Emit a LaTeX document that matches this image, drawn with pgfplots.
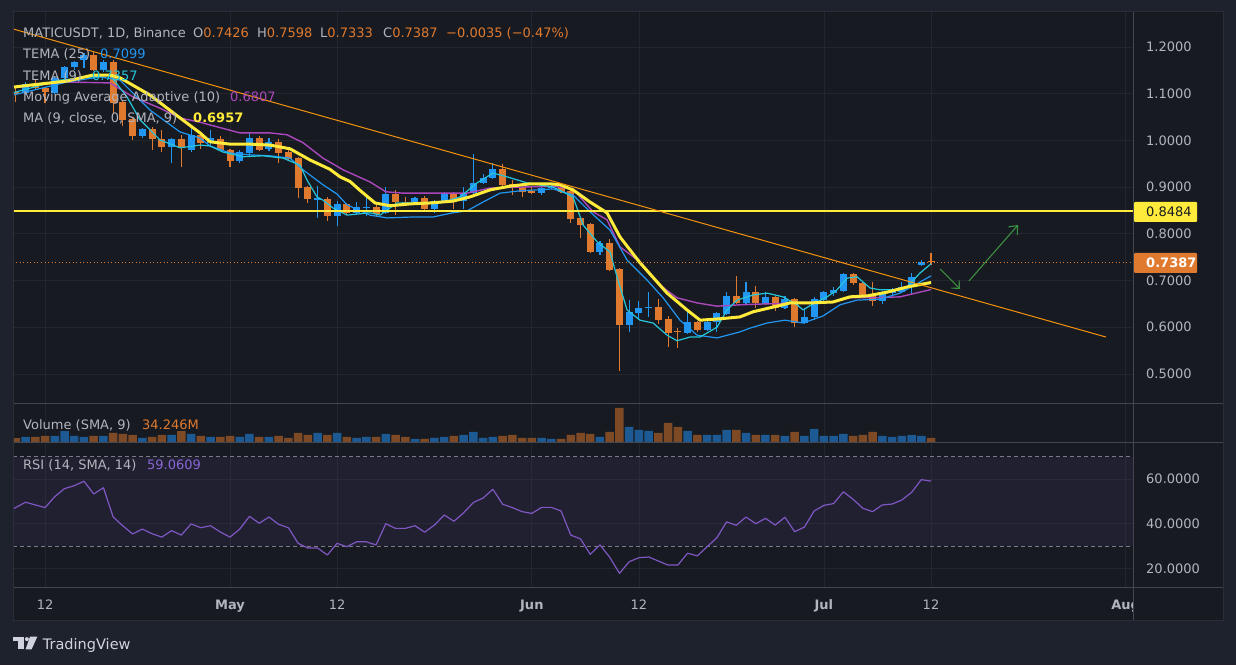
\documentclass[border=0pt]{standalone}
\usepackage{fontspec}
\setmainfont{DejaVu Sans}
\usepackage{pgfplots}
\pgfplotsset{compat=1.18}
\usepackage{pgfplotstable}
\usetikzlibrary{arrows.meta}

\definecolor{outerbg}{HTML}{1E222D}
\definecolor{chartbg}{HTML}{171A21}
\definecolor{gridc}{HTML}{22262F}
\definecolor{sepc}{HTML}{434651}
\definecolor{bordc}{HTML}{2A2E39}
\definecolor{txt}{HTML}{B2B5BE}
\definecolor{cblue}{HTML}{2196F3}
\definecolor{corange}{HTML}{E07A2E}
\definecolor{vblue}{HTML}{1D5A94}
\definecolor{vorange}{HTML}{7D4A25}
\definecolor{tema25}{HTML}{2196F3}
\definecolor{tema9}{HTML}{26C6DA}
\definecolor{maa}{HTML}{AB47BC}
\definecolor{ma9}{HTML}{FFEB3B}
\definecolor{trend}{HTML}{F5930E}
\definecolor{rsil}{HTML}{7E57C2}
\definecolor{rsitxt}{HTML}{8A66D6}
\definecolor{dashc}{HTML}{787B86}
\definecolor{arrowg}{HTML}{3C8F40}
\definecolor{logoc}{HTML}{D1D4DC}

% bullish candles: day open high low close
\pgfplotstableread{
d o h l c
-2 1.102 1.125 1.098 1.121
1 1.102 1.138 1.100 1.134
2 1.134 1.160 1.130 1.157
3 1.157 1.170 1.150 1.168
4 1.172 1.187 1.155 1.183
6 1.151 1.172 1.146 1.168
10 1.009 1.026 1.005 1.024
13 0.986 1.005 0.952 1.003
15 0.980 1.031 0.975 1.012
17 0.995 1.022 0.990 1.005
20 0.956 0.979 0.952 0.975
21 0.973 1.018 0.965 1.005
23 0.982 1.005 0.978 0.997
28 0.873 0.902 0.834 0.876
30 0.838 0.870 0.817 0.864
32 0.845 0.868 0.843 0.857
33 0.856 0.879 0.838 0.858
35 0.845 0.900 0.842 0.885
38 0.868 0.879 0.864 0.877
40 0.853 0.873 0.845 0.870
41 0.868 0.890 0.866 0.887
43 0.870 0.900 0.853 0.887
44 0.887 0.971 0.885 0.909
45 0.909 0.927 0.907 0.920
46 0.920 0.952 0.917 0.939
51 0.887 0.905 0.883 0.898
52 0.899 0.905 0.896 0.901
57 0.761 0.784 0.755 0.780
60 0.605 0.658 0.590 0.633
61 0.630 0.656 0.620 0.641
62 0.642 0.675 0.622 0.644
66 0.588 0.633 0.585 0.611
68 0.594 0.618 0.592 0.611
69 0.611 0.632 0.590 0.630
70 0.628 0.675 0.626 0.667
72 0.652 0.697 0.648 0.675
74 0.650 0.675 0.648 0.665
76 0.641 0.667 0.639 0.660
78 0.609 0.641 0.607 0.622
79 0.622 0.665 0.616 0.660
80 0.658 0.678 0.652 0.675
81 0.673 0.686 0.667 0.680
82 0.678 0.716 0.676 0.714
86 0.656 0.677 0.650 0.675
87 0.673 0.684 0.669 0.680
88 0.675 0.697 0.674 0.686
89 0.686 0.716 0.671 0.708
90 0.733 0.744 0.732 0.740
}\bull

% bearish candles: day open high low close
\pgfplotstableread{
d o h l c
-3 1.104 1.112 1.082 1.100
-1 1.121 1.129 1.108 1.112
0 1.112 1.114 1.080 1.104
5 1.183 1.190 1.148 1.151
7 1.168 1.172 1.057 1.080
8 1.082 1.086 1.031 1.044
9 1.046 1.050 1.001 1.009
11 1.024 1.029 0.980 1.003
12 1.003 1.022 0.975 0.986
14 1.003 1.012 0.943 0.986
16 1.012 1.016 0.982 0.995
18 1.003 1.010 0.977 0.980
19 0.980 0.982 0.943 0.956
22 1.005 1.009 0.978 0.980
24 0.997 1.003 0.952 0.973
25 0.975 0.981 0.955 0.960
26 0.962 0.965 0.877 0.898
27 0.900 0.903 0.866 0.875
29 0.875 0.879 0.827 0.838
31 0.864 0.866 0.840 0.845
34 0.857 0.862 0.835 0.842
36 0.885 0.894 0.840 0.868
37 0.869 0.878 0.862 0.867
39 0.877 0.880 0.850 0.853
42 0.887 0.890 0.853 0.870
47 0.939 0.950 0.902 0.905
48 0.907 0.915 0.883 0.900
49 0.900 0.903 0.879 0.890
50 0.892 0.900 0.885 0.887
53 0.900 0.903 0.888 0.890
54 0.892 0.894 0.823 0.832
55 0.834 0.836 0.791 0.819
56 0.821 0.823 0.758 0.761
58 0.780 0.789 0.720 0.723
59 0.725 0.727 0.506 0.605
63 0.643 0.660 0.607 0.615
64 0.618 0.624 0.558 0.588
65 0.591 0.598 0.556 0.589
67 0.611 0.614 0.590 0.594
71 0.667 0.710 0.650 0.652
73 0.675 0.688 0.641 0.652
75 0.665 0.667 0.635 0.641
77 0.660 0.662 0.600 0.609
83 0.714 0.717 0.690 0.695
84 0.695 0.697 0.663 0.667
85 0.669 0.697 0.645 0.656
91 0.7426 0.7598 0.7333 0.7387
}\bear

% volume (millions)
\pgfplotstableread{
d v
-2 42
1 50
2 88
3 50
4 42
6 50
10 34
13 58
15 66
17 42
20 42
21 66
23 42
28 74
30 74
32 34
33 42
35 66
38 26
40 34
41 42
43 58
44 82
45 34
46 42
51 34
52 26
57 42
60 122
61 98
62 90
66 90
68 58
69 58
70 98
72 74
74 58
76 50
78 50
79 106
80 50
81 50
82 66
86 50
87 42
88 50
89 58
90 50
}\volb

\pgfplotstableread{
d v
-3 32
-1 42
0 50
5 50
7 74
8 66
9 58
11 42
12 58
14 88
16 50
18 42
19 50
22 42
24 50
25 34
26 74
27 58
29 58
31 42
34 42
36 58
37 42
39 26
42 50
47 50
48 58
49 34
50 34
53 26
54 58
55 74
56 66
58 82
59 274
63 74
64 154
65 122
67 58
71 98
73 58
75 58
77 82
83 50
84 58
85 82
91 34
}\volo

% RSI (14)
\pgfplotstableread{
d r
-3.29 46.6
-2 49.6
0 47.2
1 52.1
2 55.7
3 57.0
4 59.0
5 53.3
6 56.1
7 43.0
8 39.0
9 35.4
10 37.6
11 35.5
12 34.0
13 36.9
14 34.9
15 39.9
16 38.2
17 39.1
18 36.3
19 34.0
20 37.6
21 43.3
22 40.2
23 43.0
24 39.7
25 38.2
26 31.2
27 29.1
28 29.1
29 26.0
30 31.2
31 29.7
32 31.9
33 31.9
34 30.5
35 40.0
36 37.9
37 37.9
38 39.1
39 36.2
40 39.4
41 43.9
42 41.1
43 44.9
44 49.5
45 51.5
46 55.4
47 48.7
48 47.2
49 45.4
50 44.6
51 47.3
52 47.3
53 45.7
54 34.9
55 33.2
56 26.3
57 30.5
58 25.0
59 17.8
60 23.0
61 24.8
62 25.1
63 23.3
64 21.5
65 21.5
66 26.8
67 25.6
68 29.7
69 33.7
70 40.8
71 39.3
72 43.0
73 40.0
74 42.4
75 39.4
76 42.9
77 36.4
78 38.5
79 45.7
80 48.2
81 49.0
82 54.3
83 50.9
84 46.9
85 45.4
86 48.4
87 48.8
88 50.6
89 54.0
90 59.7
91 59.06
}\rsi

\pgfplotsset{
  tvaxis/.style={
    scale only axis, width=1120pt, anchor=south west,
    xmin=-3.29, xmax=111.75,
    axis line style={draw=none},
    major tick length=0pt,
    tick style={draw=none},
    xtick={0,19,30,50,61,80,91,111},
    grid=major,
    major grid style={draw=gridc, line width=0.8pt},
    tick label style={font=\fontsize{13pt}{15pt}\selectfont, text=txt},
    scaled y ticks=false,
  },
}

\begin{document}
\begin{tikzpicture}[font=\fontsize{13pt}{15pt}\selectfont]
\useasboundingbox (0pt,0pt) rectangle (1236pt,665pt);
\fill[outerbg] (0pt,0pt) rectangle (1236pt,665pt);
\fill[chartbg] (13pt,45pt) rectangle (1223pt,653pt);

% ---------------- price panel ----------------
\begin{axis}[tvaxis, at={(13pt,262pt)}, height=391pt,
  ymin=0.4377, ymax=1.2749,
  ytick={0.5,0.6,0.7,0.8,0.9,1.0,1.1,1.2},
  xticklabels={},
  yticklabel pos=right,
  yticklabel style={anchor=west, inner sep=0pt, xshift=13pt,
    /pgf/number format/.cd, fixed, fixed zerofill, precision=4, assume math mode=true},
]
% wicks
\addplot[draw=cblue, line width=1.1pt, quiver={u=0, v=\thisrow{h}-\thisrow{l}}] table[x=d, y=l] {\bull};
\addplot[draw=corange, line width=1.1pt, quiver={u=0, v=\thisrow{h}-\thisrow{l}}] table[x=d, y=l] {\bear};
% bodies
\addplot[draw=cblue, line width=7pt, quiver={u=0, v=\thisrow{c}-\thisrow{o}}] table[x=d, y=o] {\bull};
\addplot[draw=corange, line width=7pt, quiver={u=0, v=\thisrow{o}-\thisrow{c}}] table[x=d, y=c] {\bear};

% Moving Average Adaptive (10)
\addplot[maa, line width=1.4pt, line join=round] coordinates {
(-3.29,1.114) (2.26,1.125) (6.68,1.123) (9.04,1.093) (11.81,1.069) (13.87,1.048) (15.92,1.039) (16.95,1.033) (20.03,1.016) (23.11,1.016) (24.86,1.012) (26.50,0.995) (28.55,0.962) (30.61,0.937) (33.38,0.911) (35.0,0.890) (36.77,0.887) (40.26,0.887) (43.34,0.887) (45.71,0.898) (48.79,0.900) (52.18,0.902) (54.23,0.896) (56.29,0.847) (57.72,0.830) (59.06,0.772) (61.11,0.740) (63.17,0.690) (64.91,0.663) (66.97,0.652) (69.02,0.645) (71.38,0.648) (74.16,0.650) (77.55,0.652) (80.94,0.654) (82.68,0.663) (85.04,0.663) (87.82,0.665) (91.00,0.6807)};
% TEMA (25)
\addplot[tema25, line width=1.2pt, line join=round] coordinates {
(-3.29,1.097) (2.26,1.125) (5.65,1.136) (7.70,1.129) (10.78,1.065) (13.87,1.018) (15.92,1.005) (16.95,0.988) (19.00,0.973) (21.06,0.969) (23.11,0.967) (25.16,0.962) (26.50,0.937) (28.55,0.905) (30.0,0.885) (31.02,0.862) (33.38,0.840) (35.13,0.834) (37.80,0.836) (39.85,0.836) (41.91,0.845) (43.34,0.849) (44.99,0.868) (46.73,0.887) (48.79,0.892) (52.18,0.896) (54.23,0.883) (55.98,0.847) (58.03,0.808) (59.78,0.744) (61.83,0.701) (63.48,0.663) (65.22,0.615) (66.97,0.583) (69.02,0.577) (71.38,0.590) (72.41,0.598) (74.16,0.609) (76.00,0.615) (77.86,0.609) (79.91,0.624) (81.66,0.648) (83.40,0.658) (85.76,0.660) (87.82,0.673) (91.00,0.7099)};
% TEMA (9)
\addplot[tema9, line width=1.2pt, line join=round] coordinates {
(-3.29,1.102) (1.54,1.129) (6.68,1.140) (8.42,1.093) (9.76,1.044) (11.81,1.001) (13.87,0.984) (15.92,0.990) (16.95,0.988) (18.28,0.975) (20.34,0.965) (22.39,0.967) (24.45,0.962) (26.19,0.947) (26.91,0.915) (27.94,0.879) (28.55,0.872) (29.6,0.855) (31.02,0.840) (33.38,0.845) (34.41,0.840) (36.15,0.866) (38.21,0.866) (40.57,0.866) (42.63,0.879) (44.37,0.909) (46.01,0.930) (47.45,0.922) (49.51,0.909) (52.18,0.900) (54.23,0.879) (55.26,0.819) (56.70,0.783) (58.03,0.761) (58.75,0.708) (59.78,0.637) (61.11,0.615) (62.45,0.609) (63.89,0.583) (64.91,0.571) (66.25,0.579) (67.28,0.579) (69.02,0.600) (70.05,0.637) (71.08,0.658) (72.72,0.669) (74.16,0.673) (75.80,0.665) (77.24,0.648) (77.86,0.637) (78.88,0.650) (80.32,0.665) (81.35,0.680) (82.38,0.705) (83.40,0.708) (84.74,0.684) (85.76,0.680) (87.10,0.680) (88.54,0.686) (89.87,0.716) (91.00,0.7357)};
% MA (9)
\addplot[ma9, line width=3pt, line join=round] coordinates {
(-3.29,1.114) (-1.23,1.119) (2.26,1.127) (4.93,1.140) (6.68,1.140) (7.70,1.134) (10.78,1.097) (13.87,1.048) (15.92,1.016) (16.95,0.997) (19.00,0.992) (21.06,0.992) (23.11,0.990) (25.16,0.982) (27.22,0.958) (28.25,0.948) (29.27,0.938) (30.30,0.922) (31.33,0.912) (32.35,0.893) (33.90,0.866) (35.44,0.860) (37.49,0.864) (39.54,0.866) (41.91,0.870) (43.65,0.879) (45.71,0.894) (47.76,0.902) (49.81,0.907) (51.87,0.907) (52.90,0.905) (54.23,0.894) (55.98,0.868) (57.72,0.845) (59.06,0.793) (61.11,0.738) (63.89,0.673) (65.94,0.637) (67.28,0.615) (69.33,0.618) (71.38,0.622) (72.72,0.633) (74.77,0.643) (76.52,0.652) (78.57,0.652) (80.94,0.654) (82.68,0.665) (84.43,0.667) (86.48,0.675) (88.54,0.686) (91.00,0.6957)};

% horizontal level, trend line, last price line
\addplot[ma9, line width=2pt] coordinates {(-3.29,0.8484) (111.75,0.8484)};
\addplot[trend, line width=1pt] coordinates {(-3.29,1.2386) (108.96,0.579)};
\addplot[corange, line width=0.8pt, dash pattern=on 1pt off 2.5pt] coordinates {(-3.29,0.7387) (111.75,0.7387)};
% green arrows
\addplot[arrowg, line width=1.1pt, -{Straight Barb[length=6pt,width=11pt]}] coordinates {(91.93,0.7246) (93.98,0.6818)};
\addplot[arrowg, line width=1.1pt, -{Straight Barb[length=7pt,width=12pt]}] coordinates {(94.90,0.6990) (99.94,0.8189)};
\end{axis}

% ---------------- volume panel ----------------
\begin{axis}[tvaxis, at={(13pt,223pt)}, height=39pt,
  ymin=0, ymax=312, ytick=\empty, xticklabels={}]
\addplot[ybar, bar width=8.5pt, bar shift=0pt, fill=vblue, draw=none] table[x=d, y=v] {\volb};
\addplot[ybar, bar width=8.5pt, bar shift=0pt, fill=vorange, draw=none] table[x=d, y=v] {\volo};
\end{axis}

% ---------------- RSI panel ----------------
\begin{axis}[tvaxis, at={(13pt,78pt)}, height=145pt,
  ymin=11.68, ymax=76.55,
  ytick={20,40,60},
  yticklabel pos=right,
  yticklabel style={anchor=west, inner sep=0pt, xshift=13pt,
    /pgf/number format/.cd, fixed, fixed zerofill, precision=4, assume math mode=true},
  xticklabels={12,\textbf{May},12,\textbf{Jun},12,\textbf{Jul},12,\textbf{Aug}},
  xticklabel style={anchor=base, inner sep=0pt, yshift=-22pt},
]
\addplot[fill=rsil, fill opacity=0.1, draw=none] coordinates {(-3.29,30) (111.75,30) (111.75,70) (-3.29,70)} -- cycle;
\addplot[dashc, line width=0.8pt, dash pattern=on 4pt off 3pt] coordinates {(-3.29,70) (111.75,70)};
\addplot[dashc, line width=0.8pt, dash pattern=on 4pt off 3pt] coordinates {(-3.29,30) (111.75,30)};
\addplot[rsil, line width=1.2pt, line join=round] table[x=d, y=r] {\rsi};
\end{axis}

% cover date label overflow under the price scale
\fill[chartbg] (1134pt,46pt) rectangle (1222pt,77pt);

% separators and border
\draw[sepc, line width=1pt] (13pt,262pt) -- (1223pt,262pt);
\draw[sepc, line width=1pt] (13pt,223pt) -- (1223pt,223pt);
\draw[sepc, line width=1pt] (13pt,78pt) -- (1223pt,78pt);
\draw[sepc, line width=1pt] (1133pt,45pt) -- (1133pt,653pt);
\draw[bordc, line width=1pt] (13pt,45pt) rectangle (1223pt,653pt);

% price scale labels
\fill[ma9, rounded corners=1pt] (1134pt,443pt) rectangle (1197pt,463pt);
\node[anchor=west, inner sep=0pt, text=chartbg] at (1146pt,453pt) {0.8484};
\fill[corange, rounded corners=1pt] (1134pt,392pt) rectangle (1197pt,412pt);
\node[anchor=west, inner sep=0pt, text=white] at (1146pt,402pt) {\bfseries 0.7387};

% legends
\begin{scope}[every node/.style={anchor=base west, inner sep=0pt}]
\node[text=txt] at (23pt,627.3pt) {MATICUSDT, 1D, Binance};
\node at (193pt,627.3pt) {\textcolor{txt}{O}\textcolor{corange}{0.7426}};
\node at (257pt,627.3pt) {\textcolor{txt}{H}\textcolor{corange}{0.7598}};
\node at (320pt,627.3pt) {\textcolor{txt}{L}\textcolor{corange}{0.7333}};
\node at (383pt,627.3pt) {\textcolor{txt}{C}\textcolor{corange}{0.7387}};
\node[text=corange] at (446pt,627.3pt) {−0.0035 (−0.47\%)};

\node[text=txt] at (23pt,606pt) {TEMA (25)};
\node[text=tema25] at (100pt,606pt) {0.7099};
\node[text=txt] at (23pt,584.7pt) {TEMA (9)};
\node[text=tema9] at (92pt,584.7pt) {0.7357};
\node[text=txt] at (23pt,563.4pt) {Moving Average Adaptive (10)};
\node[text=maa] at (230pt,563.4pt) {0.6807};
\node[text=txt] at (23pt,542.1pt) {MA (9, close, 0, SMA, 9)};
\node[text=ma9] at (193pt,542.1pt) {\bfseries 0.6957};

\node[text=txt] at (23pt,235.5pt) {Volume (SMA, 9)};
\node[text=corange] at (142pt,235.5pt) {34.246M};
\node[text=txt] at (23pt,196pt) {RSI (14, SMA, 14)};
\node[text=rsitxt] at (147pt,196pt) {59.0609};

\node[text=logoc, font=\fontsize{14.5pt}{16pt}\selectfont] at (42.7pt,15.5pt) {TradingView};
\end{scope}

% TradingView logo mark
\fill[logoc] (12.7pt,24pt) rectangle (24pt,28.3pt);
\fill[logoc] (18.3pt,15.7pt) rectangle (24pt,28.3pt);
\fill[logoc] (26.9pt,25.9pt) circle (2pt);
\fill[logoc] (30pt,28.3pt) -- (37.3pt,28.3pt) -- (31.6pt,15.7pt) -- (25.6pt,15.7pt) -- cycle;
\end{tikzpicture}
\end{document}
